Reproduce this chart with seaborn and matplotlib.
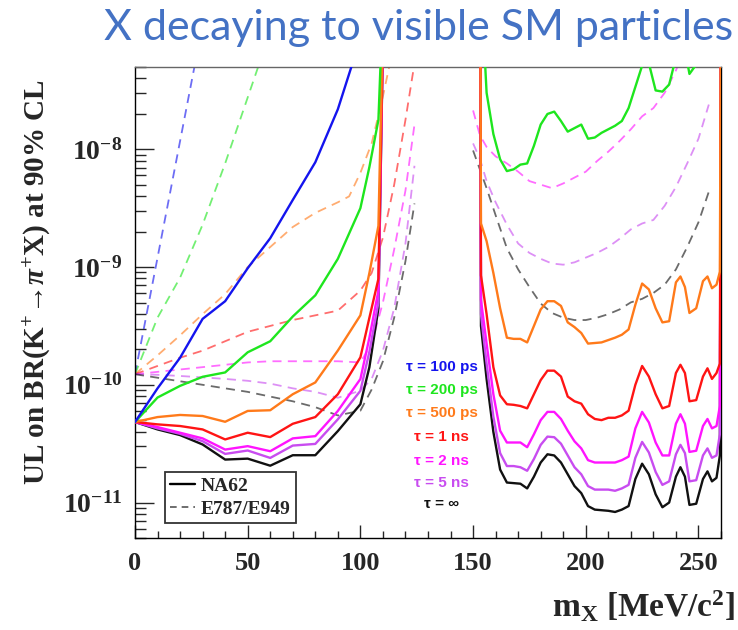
import numpy as np
import pandas as pd
import matplotlib
matplotlib.use("Agg")
import matplotlib.pyplot as plt
from matplotlib.lines import Line2D
from matplotlib.ticker import FixedLocator, MultipleLocator, LogLocator, NullFormatter, FuncFormatter
import seaborn as sns

# ---------------- data (log10 of the 90% CL upper limit on BR) ----------------
TAUS = ["100 ps", "200 ps", "500 ps", "1 ns", "2 ns", "5 ns", "inf"]

# NA62, low-mass region
M_L = [0, 10, 20, 30, 40, 50, 60, 70, 80, 90, 100, 104, 108, 110.5]
NA62_L_100ps = [-10.316, -10.03, -9.77, -9.44, -9.29, -9.01, -8.755, -8.43, -8.11, -7.66, -7.06, -6.8, -6.6, -6.5]
NA62_L_200ps = [-10.316, -10.108, -10.009, -9.932, -9.895, -9.724, -9.630, -9.42, -9.24, -8.93, -8.50, -8.15, -7.75, -6.5]
NA62_L_500ps = [-10.316, -10.274, -10.256, -10.265, -10.314, -10.222, -10.216, -10.080, -9.980, -9.709, -9.410, -9.05, -8.65, -6.5]
NA62_L_1ns = [-10.316, -10.336, -10.350, -10.379, -10.464, -10.407, -10.444, -10.331, -10.274, -10.080, -9.767, -9.43, -9.1, -6.5]
NA62_L_2ns = [-10.316, -10.359, -10.407, -10.455, -10.550, -10.521, -10.564, -10.455, -10.436, -10.222, -9.951, -9.6, -9.2, -6.5]
NA62_L_5ns = [-10.316, -10.370, -10.416, -10.479, -10.587, -10.558, -10.621, -10.516, -10.502, -10.293, -10.051, -9.72, -9.3, -6.5]
NA62_L_inf = [-10.316, -10.379, -10.427, -10.507, -10.635, -10.627, -10.687, -10.598, -10.598, -10.393, -10.165, -9.85, -9.35, -6.5]

# NA62, high-mass region
M_R = [153.2, 153.5, 156, 159, 162, 165, 168, 171, 174, 177, 180, 183, 186, 189, 192, 195, 198, 201,
       204, 207, 210, 213, 216, 219, 222, 225, 228, 231, 234, 237, 240, 242, 244, 246, 249, 252,
       254, 256, 258, 259.5, 260]
NA62_R_200ps = [-6.5, -6.6, -7.52, -7.87, -8.085, -8.185, -8.17, -8.13, -8.12, -7.97, -7.79, -7.70, -7.68,
                -7.76, -7.85, -7.82, -7.79, -7.91, -7.90, -7.86, -7.83, -7.80, -7.76, -7.65, -7.47, -7.29,
                -7.27, -7.50, -7.51, -7.45, -7.22, -7.1, -7.15, -7.36, -7.28, -7.0, -6.9, -6.9, -6.9, -6.8, -6.5]
NA62_R_500ps = [-6.5, -8.63, -8.78, -9.05, -9.35, -9.60, -9.61, -9.61, -9.64, -9.50, -9.36, -9.29, -9.29,
                -9.33, -9.47, -9.51, -9.56, -9.65, -9.645, -9.64, -9.62, -9.60, -9.575, -9.53, -9.32, -9.14,
                -9.19, -9.35, -9.47, -9.46, -9.13, -9.08, -9.17, -9.39, -9.35, -9.12, -9.08, -9.18, -9.15, -9.04, -6.5]
NA62_R_1ns = [-6.5, -9.07, -9.40, -9.85, -10.09, -10.165, -10.17, -10.18, -10.20, -10.08, -9.96, -9.88, -9.88,
              -9.93, -10.10, -10.14, -10.16, -10.25, -10.29, -10.30, -10.28, -10.28, -10.26, -10.22, -10.0, -9.84,
              -9.93, -10.08, -10.20, -10.18, -9.90, -9.83, -9.90, -10.14, -10.13, -9.93, -9.86, -9.95, -9.90, -9.82, -6.5]
NA62_R_2ns = [-6.5, -9.28, -9.65, -10.08, -10.39, -10.49, -10.49, -10.49, -10.53, -10.42, -10.30, -10.23, -10.23,
              -10.29, -10.39, -10.48, -10.54, -10.64, -10.66, -10.66, -10.66, -10.66, -10.64, -10.61, -10.37, -10.23,
              -10.32, -10.49, -10.60, -10.60, -10.33, -10.25, -10.33, -10.57, -10.56, -10.35, -10.29, -10.37, -10.35, -10.18, -6.5]
NA62_R_5ns = [-6.5, -9.40, -9.82, -10.27, -10.58, -10.69, -10.69, -10.70, -10.73, -10.63, -10.51, -10.44, -10.445,
              -10.50, -10.60, -10.70, -10.76, -10.86, -10.89, -10.89, -10.89, -10.90, -10.88, -10.85, -10.62, -10.485,
              -10.575, -10.74, -10.85, -10.82, -10.59, -10.51, -10.58, -10.82, -10.81, -10.60, -10.54, -10.62, -10.60, -10.42, -6.5]
NA62_R_inf = [-6.5, -9.50, -9.95, -10.40, -10.72, -10.83, -10.835, -10.84, -10.88, -10.78, -10.66, -10.59, -10.60,
              -10.66, -10.76, -10.86, -10.92, -11.03, -11.06, -11.065, -11.07, -11.08, -11.06, -11.03, -10.80, -10.67,
              -10.76, -10.93, -11.04, -11.00, -10.78, -10.70, -10.78, -11.02, -11.01, -10.80, -10.735, -10.82, -10.79, -10.60, -6.5]

# E787/E949, low-mass region
M_E_100ps = [0, 10, 20, 30]
E949_L_100ps = [-9.91, -8.92, -7.93, -6.94]
M_E_200ps = [0, 10, 20, 30, 40, 50, 60]
E949_L_200ps = [-9.91, -9.43, -9.09, -8.64, -8.12, -7.56, -7.0]
M_E_500ps = [0, 10, 20, 30, 40, 50, 60, 70, 80, 90, 95, 100, 105, 110, 115]
E949_L_500ps = [-9.91, -9.75, -9.58, -9.40, -9.23, -9.0, -8.83, -8.66, -8.54, -8.45, -8.40, -8.2, -7.95, -7.55, -7.1]
M_E_1ns = [0, 10, 20, 30, 40, 50, 60, 70, 80, 90, 100, 105, 110, 115, 120, 125]
E949_L_1ns = [-9.91, -9.84, -9.77, -9.71, -9.63, -9.55, -9.50, -9.45, -9.41, -9.37, -9.20, -9.05, -8.75, -8.3, -7.75, -7.15]
M_E_L = [0, 10, 20, 30, 40, 50, 60, 70, 80, 90, 100, 105, 110, 115, 120, 124]
E949_L_2ns = [-9.91, -9.89, -9.87, -9.85, -9.83, -9.81, -9.80, -9.80, -9.80, -9.80, -9.81, -9.65, -9.30, -8.85, -8.35, -7.79]
E949_L_5ns = [-9.91, -9.915, -9.925, -9.937, -9.95, -9.966, -9.99, -10.03, -10.06, -10.11, -10.05, -9.95, -9.71, -9.35, -8.8, -8.14]
E949_L_inf = [-9.91, -9.94, -9.97, -10.0, -10.03, -10.06, -10.10, -10.14, -10.19, -10.26, -10.22, -10.04, -9.80, -9.43, -8.95, -8.46]

# E787/E949, high-mass region
M_E_R2 = [150, 153, 156, 160, 165, 170, 175, 180, 185, 190, 195, 200, 205, 210, 215, 220, 225, 230, 235, 240, 245]
E949_R_2ns = [-7.67, -7.88, -7.98, -8.06, -8.12, -8.19, -8.27, -8.30, -8.33, -8.29, -8.24, -8.19, -8.10, -8.02,
              -7.93, -7.83, -7.72, -7.65, -7.52, -7.33, -7.1]
M_E_R = [150, 153, 156, 160, 165, 170, 175, 180, 185, 190, 195, 200, 205, 210, 215, 220, 225, 230, 235, 240, 245, 250, 254.6]
E949_R_5ns = [-7.95, -8.08, -8.27, -8.45, -8.64, -8.80, -8.88, -8.93, -8.97, -8.98, -8.96, -8.92, -8.88, -8.83,
              -8.76, -8.68, -8.63, -8.60, -8.48, -8.32, -8.12, -7.91, -7.62]
E949_R_inf = [-8.01, -8.17, -8.33, -8.56, -8.84, -9.02, -9.17, -9.31, -9.39, -9.43, -9.45, -9.45, -9.43, -9.40,
              -9.36, -9.30, -9.27, -9.22, -9.15, -9.02, -8.83, -8.62, -8.36]

TAU_LABELS = ["τ = 100 ps", "τ = 200 ps", "τ = 500 ps", "τ = 1 ns", "τ = 2 ns", "τ = 5 ns", "τ = ∞"]
LEGEND_LABELS = ["NA62", "E787/E949"]

COLORS = {"100 ps": "#1414ee", "200 ps": "#1ee61e", "500 ps": "#ff7a1a", "1 ns": "#ff1414",
          "2 ns": "#ff14ff", "5 ns": "#c84cf0", "inf": "#111111"}

# ---------------- style ----------------
sns.set_style("ticks", {"xtick.direction": "in", "ytick.direction": "in"})
plt.rcParams["font.family"] = ["Liberation Serif", "DejaVu Serif"]
plt.rcParams["mathtext.fontset"] = "custom"
plt.rcParams["mathtext.rm"] = "Liberation Serif:bold"
plt.rcParams["mathtext.bf"] = "Liberation Serif:bold"
plt.rcParams["mathtext.it"] = "Liberation Serif:italic:bold"

fig = plt.figure(figsize=(7.38, 6.30), dpi=100)
ax = fig.add_axes([135 / 738, 92 / 630, 586 / 738, 471 / 630])


def draw(ms, logs, tau, dashed, z):
    df = pd.DataFrame({"m": ms, "br": np.power(10.0, logs)})
    if dashed:
        sns.lineplot(data=df, x="m", y="br", ax=ax, color=COLORS[tau], alpha=0.62, lw=1.3,
                     linestyle=(0, (5, 3.5)), legend=False, zorder=z)
    else:
        sns.lineplot(data=df, x="m", y="br", ax=ax, color=COLORS[tau], lw=1.7, legend=False, zorder=z)


# dashed E787/E949
draw(M_E_100ps, E949_L_100ps, "100 ps", True, 2)
draw(M_E_200ps, E949_L_200ps, "200 ps", True, 2)
draw(M_E_500ps, E949_L_500ps, "500 ps", True, 2)
draw(M_E_1ns, E949_L_1ns, "1 ns", True, 2)
draw(M_E_L, E949_L_2ns, "2 ns", True, 2)
draw(M_E_L, E949_L_5ns, "5 ns", True, 2)
draw(M_E_L, E949_L_inf, "inf", True, 2)
draw(M_E_R2, E949_R_2ns, "2 ns", True, 2)
draw(M_E_R, E949_R_5ns, "5 ns", True, 2)
draw(M_E_R, E949_R_inf, "inf", True, 2)

# solid NA62 (longest lifetime drawn first, so shorter lifetimes sit on top)
left_sets = [NA62_L_100ps, NA62_L_200ps, NA62_L_500ps, NA62_L_1ns, NA62_L_2ns, NA62_L_5ns, NA62_L_inf]
right_sets = [None, NA62_R_200ps, NA62_R_500ps, NA62_R_1ns, NA62_R_2ns, NA62_R_5ns, NA62_R_inf]
for i in range(len(TAUS)):
    z = 3 + len(TAUS) - i
    draw(M_L, left_sets[i], TAUS[i], False, z)
    if right_sets[i] is not None:
        draw(M_R, right_sets[i], TAUS[i], False, z)

ax.set_yscale("log")
ax.set_xlim(0, 260)
ax.set_ylim(5e-12, 5e-8)

ax.xaxis.set_major_locator(MultipleLocator(50))
ax.xaxis.set_minor_locator(MultipleLocator(10))
ax.yaxis.set_major_locator(FixedLocator([1e-11, 1e-10, 1e-9, 1e-8]))
ax.yaxis.set_minor_locator(LogLocator(base=10, subs=np.arange(2, 10)))
ax.yaxis.set_minor_formatter(NullFormatter())
ax.yaxis.set_major_formatter(FuncFormatter(lambda v, p: r"$10^{%d}$" % int(round(np.log10(v)))))

ax.tick_params(axis="y", which="major", length=14, width=1, labelsize=20, pad=9, direction="in", left=True, right=False)
ax.tick_params(axis="y", which="minor", length=8, width=1, direction="in", left=True, right=False)
ax.tick_params(axis="x", which="major", length=9.5, width=1, labelsize=19, pad=10, direction="in", bottom=True, top=False)
ax.tick_params(axis="x", which="minor", length=5, width=1, direction="in", bottom=True, top=False)
for lab in ax.get_xticklabels():
    lab.set_fontweight("bold")
for s in ax.spines.values():
    s.set_color("black")
    s.set_linewidth(1.0)
ax.spines["top"].set_color("#666666")

ax.set_xlabel("")
ax.set_ylabel("")

fig.text(735 / 738, 1 - 607 / 630, r"m$_{\mathbf{X}}$ [MeV/c$^{2}$]", ha="right", va="center",
         fontsize=24, fontweight="bold")
fig.text(37 / 738, 1 - 282 / 630, r"UL on BR(K$^{+}$→$\pi^{+}$X) at 90% CL",
         rotation=90, ha="center", va="center", fontsize=21, fontweight="bold")

fig.text(733 / 738, 1 - 28 / 630, "X decaying to visible SM particles", ha="right", va="center",
         fontsize=31, color="#4472C4", family=["Lato", "DejaVu Sans"])

# lifetime labels
tau_y = [0.363, 0.314, 0.265, 0.214, 0.163, 0.117, 0.072]
for txt, tau, yy in zip(TAU_LABELS, TAUS, tau_y):
    ax.text(0.523, yy, txt, transform=ax.transAxes, ha="center", va="center",
            color=COLORS[tau], fontsize=11, fontweight="bold", family=["Liberation Sans", "DejaVu Sans"])

handles = [Line2D([0], [0], color="black", lw=1.7),
           Line2D([0], [0], color="#555555", lw=1.2, linestyle=(0, (4, 3)))]
leg = ax.legend(handles, LEGEND_LABELS, loc="lower left", bbox_to_anchor=(0.051, 0.032),
                borderaxespad=0, fancybox=False, framealpha=1, edgecolor="#333333",
                prop={"family": "Liberation Serif", "weight": "bold", "size": 14},
                handlelength=1.3, handletextpad=0.3, labelspacing=0.3, borderpad=0.25)
leg.get_frame().set_linewidth(1.3)
leg.set_zorder(20)

fig.savefig("out.png", dpi=100)
